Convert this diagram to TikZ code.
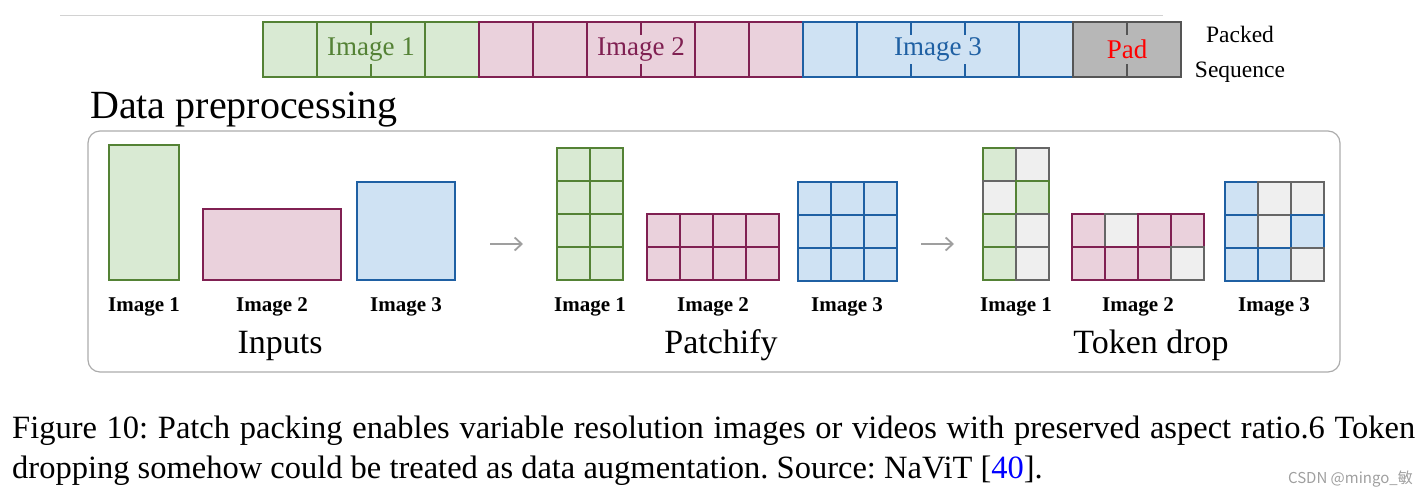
\documentclass[tikz,border=0pt]{standalone}
\usepackage{fontspec}
\setmainfont{Liberation Serif}
\newfontfamily\cjk{Noto Sans CJK SC}
\usetikzlibrary{positioning,arrows.meta}

\begin{document}
\begin{tikzpicture}[x=1pt,y=-1pt,
        cellline/.style={line width=1.7pt},
        seqlabel/.style={font=\fontsize{27}{30}\selectfont, inner sep=0pt},
        imglabel/.style={font=\fontsize{21}{24}\selectfont\bfseries, anchor=base},
        stagelabel/.style={font=\fontsize{34}{38}\selectfont, anchor=base},
        caption/.style={font=\fontsize{32.5}{36}\selectfont\frenchspacing, anchor=base west, inner sep=0pt},
        flow/.style={-{Straight Barb[length=7pt,width=13pt]}, draw=gray!75, line width=1.8pt}]
        % Define colors
        \definecolor{greenline}{RGB}{84,130,53}
        \definecolor{greenfill}{RGB}{217,234,211}
        \definecolor{pinkline}{RGB}{128,32,82}
        \definecolor{pinkfill}{RGB}{234,209,220}
        \definecolor{blueline}{RGB}{31,96,163}
        \definecolor{bluefill}{RGB}{207,226,243}
        \definecolor{dropline}{RGB}{102,102,102}
        \definecolor{dropfill}{RGB}{239,239,239}
        \definecolor{padline}{RGB}{85,85,85}
        \definecolor{padfill}{RGB}{183,183,183}

        \useasboundingbox (0,0) rectangle (1428,496);

        % Thin rule at the top
        \coordinate (rulestart) at (60,15);
        \coordinate (ruleend) at (1163,15);
        \draw[gray!35, line width=1pt] (rulestart) -- (ruleend);

        % Packed sequence: the four segments
        \foreach \xa/\xb/\fc/\lc in {263/479/greenfill/greenline, 479/803/pinkfill/pinkline,
                                     803/1073/bluefill/blueline, 1073/1181/padfill/padline}
            \filldraw[fill=\fc, draw=\lc, cellline] (\xa,22) rectangle (\xb,77);

        % Full cell borders
        \foreach \x/\lc in {317/greenline, 425/greenline, 533/pinkline, 587/pinkline,
                            695/pinkline, 749/pinkline, 857/blueline, 1019/blueline}
            \draw[\lc, cellline] (\x,22) -- (\x,77);

        % Short ticks behind the labels
        \foreach \x/\lc in {371/greenline, 641/pinkline, 911/blueline, 965/blueline, 1127/padline} {
            \draw[\lc, cellline] (\x,22) -- (\x,35);
            \draw[\lc, cellline] (\x,64) -- (\x,77);
        }

        \node[seqlabel, text=greenline] (seqone) at (371,49) {Image 1};
        \node[seqlabel, text=pinkline] (seqtwo) at (641,49) {Image 2};
        \node[seqlabel, text=blueline] (seqthree) at (938,49) {Image 3};
        \node[seqlabel, text=red] (seqpad) at (1127,49) {Pad};

        \node[font=\fontsize{23.5}{26}\selectfont, anchor=base] (packed) at (1240,42) {Packed};
        \node[font=\fontsize{23.5}{26}\selectfont, anchor=base] (sequence) at (1240,77) {Sequence};

        % Title and frame
        \node[font=\fontsize{40}{44}\selectfont, anchor=base west, inner sep=0pt] (title) at (90,118) {Data preprocessing};
        \draw[gray!65, line width=1.2pt, rounded corners=12pt] (88,131) rectangle (1340,372);

        % Inputs
        \filldraw[fill=greenfill, draw=greenline, cellline] (109,145) rectangle (179,280);
        \filldraw[fill=pinkfill, draw=pinkline, cellline] (203,209) rectangle (341,280);
        \filldraw[fill=bluefill, draw=blueline, cellline] (357,182) rectangle (455,280);

        \node[imglabel] (inone) at (144,311) {Image 1};
        \node[imglabel] (intwo) at (272,311) {Image 2};
        \node[imglabel] (inthree) at (406,311) {Image 3};
        \node[stagelabel] (inputs) at (280,353) {Inputs};

        % Arrow to patchify
        \coordinate (flowa) at (490,244);
        \coordinate (flowb) at (523,244);
        \draw[flow] (flowa) -- (flowb);

        % Patchify
        \foreach \i in {0,1}
            \foreach \j in {0,...,3}
                \filldraw[fill=greenfill, draw=greenline, cellline] (557+\i*33,148+\j*33) rectangle +(33,33);
        \foreach \i in {0,...,3}
            \foreach \j in {0,1}
                \filldraw[fill=pinkfill, draw=pinkline, cellline] (647+\i*33,214+\j*33) rectangle +(33,33);
        \foreach \i in {0,...,2}
            \foreach \j in {0,...,2}
                \filldraw[fill=bluefill, draw=blueline, cellline] (798+\i*33,182+\j*33) rectangle +(33,33);

        \node[imglabel] (patchone) at (590,311) {Image 1};
        \node[imglabel] (patchtwo) at (713,311) {Image 2};
        \node[imglabel] (patchthree) at (847,311) {Image 3};
        \node[stagelabel] (patchify) at (721,353) {Patchify};

        % Arrow to token drop
        \coordinate (flowc) at (921,244);
        \coordinate (flowd) at (954,244);
        \draw[flow] (flowc) -- (flowd);

        % Token drop (1 = kept, 0 = dropped)
        \foreach \i in {0,1}
            \foreach \j in {0,...,3} {
                \pgfmathtruncatemacro{\keep}{{1,0,0,1,1,0,1,0}[\j*2+\i]}
                \pgfmathsetmacro{\cfill}{\keep ? "greenfill" : "dropfill"}
                \pgfmathsetmacro{\cdraw}{\keep ? "greenline" : "dropline"}
                \filldraw[fill=\cfill, draw=\cdraw, cellline] (983+\i*33,148+\j*33) rectangle +(33,33);
            }
        \foreach \i in {0,...,3}
            \foreach \j in {0,1} {
                \pgfmathtruncatemacro{\keep}{{1,0,1,1,1,1,1,0}[\j*4+\i]}
                \pgfmathsetmacro{\cfill}{\keep ? "pinkfill" : "dropfill"}
                \pgfmathsetmacro{\cdraw}{\keep ? "pinkline" : "dropline"}
                \filldraw[fill=\cfill, draw=\cdraw, cellline] (1072+\i*33,214+\j*33) rectangle +(33,33);
            }
        \foreach \i in {0,...,2}
            \foreach \j in {0,...,2} {
                \pgfmathtruncatemacro{\keep}{{1,0,0,1,0,1,1,1,0}[\j*3+\i]}
                \pgfmathsetmacro{\cfill}{\keep ? "bluefill" : "dropfill"}
                \pgfmathsetmacro{\cdraw}{\keep ? "blueline" : "dropline"}
                \filldraw[fill=\cfill, draw=\cdraw, cellline] (1225+\i*33,182+\j*33) rectangle +(33,33);
            }

        \node[imglabel] (dropone) at (1016,311) {Image 1};
        \node[imglabel] (droptwo) at (1138,311) {Image 2};
        \node[imglabel] (dropthree) at (1274,311) {Image 3};
        \node[stagelabel] (tokendrop) at (1151,353) {Token drop};

        % Caption
        \node[caption] (capone) at (12,438)
            {\makebox[1403pt][s]{Figure 10: Patch packing enables variable resolution images or videos with preserved aspect ratio.6 Token}};
        \node[caption] (captwo) at (12,478)
            {dropping somehow could be treated as data augmentation. Source: NaViT [{\color{blue}40}].};
        \node[font=\cjk\fontsize{15}{17}\selectfont, text=gray!75, anchor=base east, inner sep=0pt] (mark) at (1413,483)
            {CSDN @mingo\_敏};
\end{tikzpicture}
\end{document}
